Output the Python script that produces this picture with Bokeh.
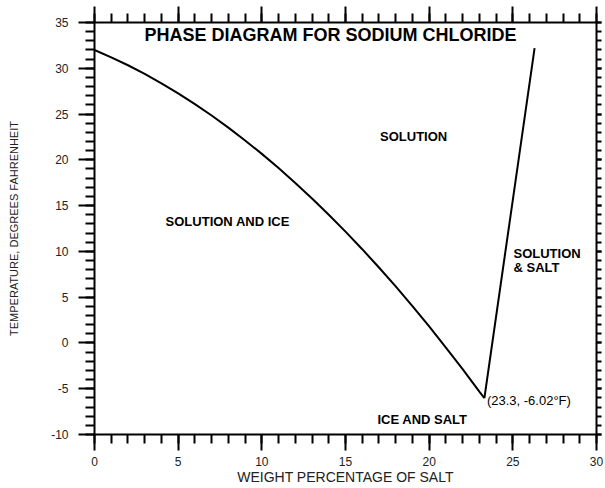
from bokeh.plotting import figure
from bokeh.models import (Range1d, LinearAxis, SingleIntervalTicker, Label,
                          PrintfTickFormatter, CustomLabelingPolicy)
from bokeh.embed import file_html
from bokeh.resources import INLINE

# Freezing-point (ice) curve
salt_pct = [0, 1, 2, 3, 4, 5, 6, 7, 8, 9, 10, 11, 12, 13, 14, 15, 16, 17, 18, 19, 20, 21, 22, 23, 23.3]
freeze_F = [32.0, 31.2, 30.33, 29.38, 28.36, 27.26, 26.09, 24.84, 23.52, 22.12, 20.65, 19.1,
            17.48, 15.78, 14.01, 12.16, 10.24, 8.24, 6.17, 4.02, 1.8, -0.5, -2.87, -5.32, -6.02]
# Solubility (salt) line
sol_pct = [23.3, 26.3]
sol_F = [-6.02, 32.2]

x_tick_interval = 5
y_tick_interval = 5

FONT = "Liberation Sans"

p = figure(width=605, height=488, output_backend="svg", toolbar_location=None,
           x_range=Range1d(0, 30), y_range=Range1d(-10, 35),
           x_axis_location=None, y_axis_location=None,
           min_border_left=94, min_border_right=5, min_border_top=22, min_border_bottom=54)
p.outline_line_color = None
p.xgrid.visible = False
p.ygrid.visible = False
p.background_fill_color = "white"
p.border_fill_color = "white"


def style(ax, interval, tick_out, minor_out, labels=True):
    ax.ticker = SingleIntervalTicker(interval=interval, num_minor_ticks=5)
    ax.formatter = PrintfTickFormatter(format="%d")
    ax.axis_line_width = 2
    ax.axis_line_color = "black"
    ax.major_tick_line_width = 2
    ax.minor_tick_line_width = 2
    ax.major_tick_line_color = "black"
    ax.minor_tick_line_color = "black"
    ax.major_tick_in = 0
    ax.minor_tick_in = 0
    ax.major_tick_out = tick_out
    ax.minor_tick_out = minor_out
    ax.major_label_text_font = FONT
    ax.major_label_text_color = "#222222"
    ax.axis_label_text_font = FONT
    ax.axis_label_text_font_style = "normal"
    ax.axis_label_text_color = "#222222"
    if labels:
        ax.major_label_text_font_size = "12px"
    else:
        ax.major_label_text_font_size = "1px"
        ax.major_label_standoff = 0
        ax.major_label_policy = CustomLabelingPolicy(code="return []")


xb = LinearAxis(axis_label="WEIGHT PERCENTAGE OF SALT")
style(xb, x_tick_interval, 16, 9)
xb.major_label_standoff = 6
xb.axis_label_standoff = 0
xb.axis_label_text_font_size = "14px"
p.add_layout(xb, "below")

yl = LinearAxis(axis_label="TEMPERATURE, DEGREES FAHRENHEIT")
style(yl, y_tick_interval, 16, 9)
yl.major_label_standoff = 10
yl.axis_label_standoff = 28
yl.axis_label_text_font_size = "11px"
p.add_layout(yl, "left")

xt = LinearAxis()
style(xt, x_tick_interval, 16, 9, labels=False)
p.add_layout(xt, "above")

yr = LinearAxis()
style(yr, y_tick_interval, 5, 5, labels=False)
p.add_layout(yr, "right")

p.line(salt_pct, freeze_F, line_color="black", line_width=2)
p.line(sol_pct, sol_F, line_color="black", line_width=2)


def lab(x, y, t, size, bold=True, align="center", baseline="middle"):
    p.add_layout(Label(x=x, y=y, text=t, text_font=FONT, text_font_size=size,
                       text_font_style="bold" if bold else "normal",
                       text_align=align, text_baseline=baseline, text_color="black"))


lab(14.1, 33.6, "PHASE DIAGRAM FOR SODIUM CHLORIDE", "18px")
lab(19.07, 22.6, "SOLUTION", "13px")
lab(7.96, 13.3, "SOLUTION AND ICE", "13px")
lab(25.04, 9.73, "SOLUTION", "13px", align="left")
lab(25.04, 8.28, "& SALT", "13px", align="left")
lab(19.6, -8.36, "ICE AND SALT", "13px")
lab(23.45, -6.3, "(23.3, -6.02\u00b0F)", "13px", bold=False, align="left")

open("out.html", "w").write(file_html(p, INLINE))
